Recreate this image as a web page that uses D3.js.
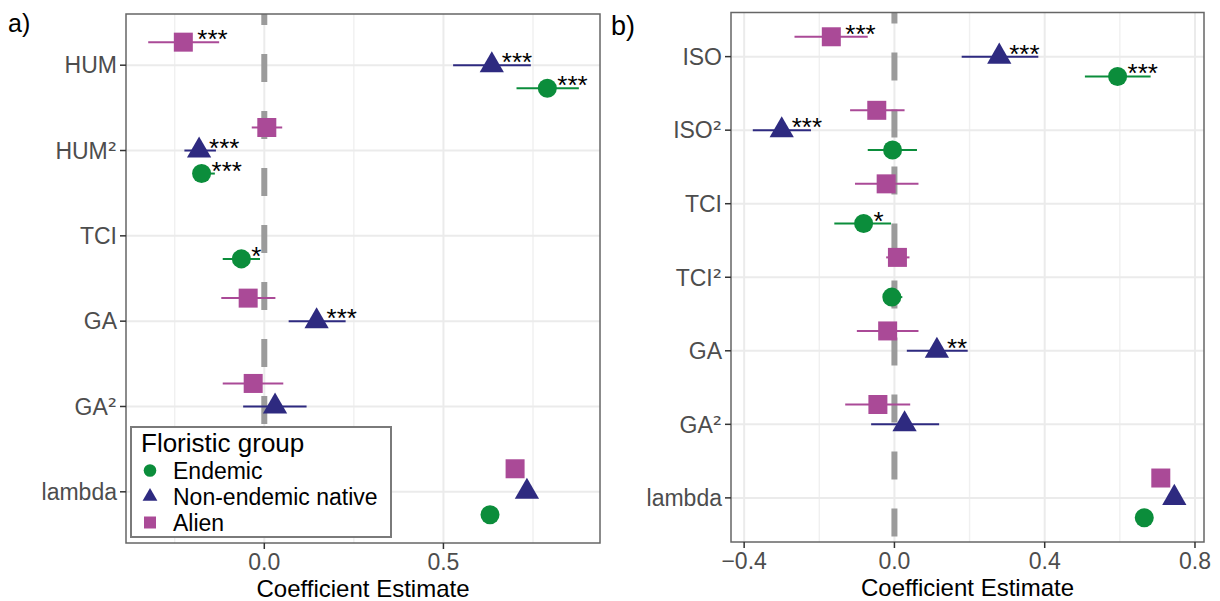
<!DOCTYPE html>
<html>
<head>
<meta charset="utf-8">
<script src="https://cdn.jsdelivr.net/npm/d3@7"></script>
<style>
  body { margin: 0; background: #fff; }
  svg { display: block; }
  text { font-family: "Liberation Sans", Arial, Helvetica, sans-serif; }
  tspan.sup { font-family: "DejaVu Sans", sans-serif; }
</style>
</head>
<body>
<svg id="fig" width="1220" height="601"></svg>
<script>
// Floristic groups, in legend order
const groups = ["Endemic", "Non-endemic native", "Alien"];
const groupColors = ["#0b8d3b", "#2e2a80", "#aa4a97"];
const groupShapes = ["circle", "triangle", "square"];
// vertical dodge of each group within a term row (fraction of row step)
const groupDodge = [0.27, 0, -0.27];

// ---- Panel a: humidity model ----
const termsA = ["HUM", "HUM²", "TCI", "GA", "GA²", "lambda"];
const endemicEstA  = [0.790, -0.175, -0.064, null, null, 0.630];
const endemicLoA   = [0.704, -0.198, -0.116, null, null, null];
const endemicHiA   = [0.878, -0.138, -0.012, null, null, null];
const endemicSigA  = ["***", "***", "*", "", "", ""];
const nativeEstA   = [0.635, -0.182, null, 0.146, 0.030, 0.733];
const nativeLoA    = [0.527, -0.223, null, 0.068, -0.059, null];
const nativeHiA    = [0.744, -0.135, null, 0.227, 0.118, null];
const nativeSigA   = ["***", "***", "", "***", "", ""];
const alienEstA    = [-0.226, 0.007, null, -0.045, -0.031, 0.700];
const alienLoA     = [-0.324, -0.035, null, -0.120, -0.116, null];
const alienHiA     = [-0.126, 0.050, null, 0.031, 0.053, null];
const alienSigA    = ["***", "", "", "", "", ""];
const xLimitsA = [-0.386, 0.937];
const xMajorA = [0, 0.5];
const xMinorA = [-0.25, 0.25, 0.75];
const xTickLabelsA = ["0.0", "0.5"];

// ---- Panel b: isothermality model ----
const termsB = ["ISO", "ISO²", "TCI", "TCI²", "GA", "GA²", "lambda"];
const endemicEstB  = [0.594, -0.005, -0.082, -0.007, null, null, 0.665];
const endemicLoB   = [0.507, -0.071, -0.160, -0.013, null, null, null];
const endemicHiB   = [0.682, 0.060, -0.009, 0.021, null, null, null];
const endemicSigB  = ["***", "", "*", "", "", "", ""];
const nativeEstB   = [0.279, -0.300, null, null, 0.113, 0.027, 0.745];
const nativeLoB    = [0.179, -0.377, null, null, 0.033, -0.062, null];
const nativeHiB    = [0.383, -0.222, null, null, 0.195, 0.119, null];
const nativeSigB   = ["***", "***", "", "", "**", "", ""];
const alienEstB    = [-0.168, -0.047, -0.022, 0.008, -0.018, -0.044, 0.709];
const alienLoB     = [-0.266, -0.118, -0.105, -0.022, -0.100, -0.131, null];
const alienHiB     = [-0.071, 0.027, 0.064, 0.040, 0.064, 0.042, null];
const alienSigB    = ["***", "", "", "", "", "", ""];
const xLimitsB = [-0.435, 0.824];
const xMajorB = [-0.4, 0, 0.4, 0.8];
const xMinorB = [-0.2, 0.2, 0.6];
const xTickLabelsB = ["\u22120.4", "0.0", "0.4", "0.8"];

const svg = d3.select("#fig");

function symbolPath(shape, big) {
  const sizes = big
    ? { circle: 284, triangle: 255, square: 361 }
    : { circle: 125, triangle: 95, square: 144 };
  const type = shape === "circle" ? d3.symbolCircle
             : shape === "triangle" ? d3.symbolTriangle : d3.symbolSquare;
  return d3.symbol().type(type).size(sizes[shape])();
}

function buildRows(terms, est, lo, hi, sig) {
  // est/lo/hi/sig are arrays indexed [group][term]
  const rows = [];
  groups.forEach((g, gi) => {
    terms.forEach((t, ti) => {
      if (est[gi][ti] == null) return;
      rows.push({ term: t, group: gi, est: est[gi][ti], lo: lo[gi][ti], hi: hi[gi][ti], sig: sig[gi][ti] });
    });
  });
  return rows;
}

// term label with the squared sign set in a font whose superscript sits high
function termLabel(sel) {
  sel.each(function (d) {
    const t = d3.select(this);
    const base = d.replace("²", "");
    t.append("tspan").text(base);
    if (d.includes("²")) t.append("tspan").attr("class", "sup").text("²");
  });
}

function drawPanel(cfg) {
  const { left, top, right, bottom } = cfg.box;
  const g = svg.append("g");
  const x = d3.scaleLinear().domain(cfg.xLimits).range([left, right]);
  const y = d3.scalePoint().domain(cfg.terms).range([top, bottom]).padding(0.6);
  const step = y.step();

  // grid
  g.selectAll(".minor").data(cfg.xMinor).join("line")
    .attr("x1", d => x(d)).attr("x2", d => x(d)).attr("y1", top).attr("y2", bottom)
    .attr("stroke", "#f0f0f0").attr("stroke-width", 1.4);
  g.selectAll(".majx").data(cfg.xMajor).join("line")
    .attr("x1", d => x(d)).attr("x2", d => x(d)).attr("y1", top).attr("y2", bottom)
    .attr("stroke", "#ebebeb").attr("stroke-width", 2);
  g.selectAll(".majy").data(cfg.terms).join("line")
    .attr("x1", left).attr("x2", right).attr("y1", d => y(d)).attr("y2", d => y(d))
    .attr("stroke", "#ebebeb").attr("stroke-width", 2);

  // reference line at zero
  g.append("line")
    .attr("x1", x(0)).attr("x2", x(0)).attr("y1", top).attr("y2", bottom)
    .attr("stroke", "#9b9b9b").attr("stroke-width", 6)
    .attr("stroke-dasharray", "28,29").attr("stroke-dashoffset", 17);

  const rows = buildRows(cfg.terms, cfg.est, cfg.lo, cfg.hi, cfg.sig);
  const yPos = d => y(d.term) + groupDodge[d.group] * step;

  // confidence intervals
  g.selectAll(".ci").data(rows.filter(d => d.lo != null)).join("line")
    .attr("x1", d => x(d.lo)).attr("x2", d => x(d.hi))
    .attr("y1", yPos).attr("y2", yPos)
    .attr("stroke", d => groupColors[d.group]).attr("stroke-width", 2);

  // estimates
  g.selectAll(".pt").data(rows).join("path")
    .attr("d", d => symbolPath(groupShapes[d.group], true))
    .attr("transform", d => `translate(${x(d.est)},${yPos(d)})`)
    .attr("fill", d => groupColors[d.group]);

  // significance stars
  g.selectAll(".sig").data(rows.filter(d => d.sig)).join("text")
    .attr("x", d => x(d.est) + (groupShapes[d.group] === "square" ? 14 : 10))
    .attr("y", d => yPos(d) + 6)
    .attr("font-size", 26).attr("fill", "#000")
    .text(d => d.sig);

  // panel border
  g.append("rect")
    .attr("x", left).attr("y", top).attr("width", right - left).attr("height", bottom - top)
    .attr("fill", "none").attr("stroke", "#666").attr("stroke-width", 1.5);

  // y axis ticks & labels
  g.selectAll(".yt").data(cfg.terms).join("line")
    .attr("x1", left - 6).attr("x2", left).attr("y1", d => y(d)).attr("y2", d => y(d))
    .attr("stroke", "#333").attr("stroke-width", 1.5);
  g.selectAll(".yl").data(cfg.terms).join("text")
    .attr("x", left - 9).attr("y", d => y(d)).attr("dy", "0.36em")
    .attr("text-anchor", "end").attr("font-size", 23).attr("fill", "#4d4d4d")
    .call(termLabel);

  // x axis ticks & labels
  g.selectAll(".xt").data(cfg.xMajor).join("line")
    .attr("x1", d => x(d)).attr("x2", d => x(d)).attr("y1", bottom).attr("y2", bottom + 6)
    .attr("stroke", "#333").attr("stroke-width", 1.5);
  g.selectAll(".xl").data(cfg.xMajor).join("text")
    .attr("x", d => x(d)).attr("y", bottom + 27)
    .attr("text-anchor", "middle").attr("font-size", 23).attr("fill", "#4d4d4d")
    .text((d, i) => cfg.xTickLabels[i]);

  g.append("text")
    .attr("x", (left + right) / 2).attr("y", bottom + 54)
    .attr("text-anchor", "middle").attr("font-size", 24).attr("fill", "#000")
    .text("Coefficient Estimate");

  // panel tag
  svg.append("text")
    .attr("x", cfg.tag.x).attr("y", cfg.tag.y)
    .attr("font-size", cfg.tag.size).attr("fill", "#000")
    .text(cfg.tag.text);

  return g;
}

drawPanel({
  box: { left: 126, top: 14, right: 600, bottom: 543 },
  terms: termsA, xLimits: xLimitsA, xMajor: xMajorA, xMinor: xMinorA, xTickLabels: xTickLabelsA,
  est: [endemicEstA, nativeEstA, alienEstA],
  lo: [endemicLoA, nativeLoA, alienLoA],
  hi: [endemicHiA, nativeHiA, alienHiA],
  sig: [endemicSigA, nativeSigA, alienSigA],
  tag: { text: "a)", x: 8, y: 32, size: 25 }
});

drawPanel({
  box: { left: 731, top: 12.5, right: 1204, bottom: 542 },
  terms: termsB, xLimits: xLimitsB, xMajor: xMajorB, xMinor: xMinorB, xTickLabels: xTickLabelsB,
  est: [endemicEstB, nativeEstB, alienEstB],
  lo: [endemicLoB, nativeLoB, alienLoB],
  hi: [endemicHiB, nativeHiB, alienHiB],
  sig: [endemicSigB, nativeSigB, alienSigB],
  tag: { text: "b)", x: 611, y: 35, size: 27 }
});

// legend (inside panel a)
const legend = svg.append("g");
legend.append("rect")
  .attr("x", 131).attr("y", 427).attr("width", 260).attr("height", 110)
  .attr("fill", "#fff").attr("stroke", "#7a7a7a").attr("stroke-width", 2);
legend.append("text")
  .attr("x", 141).attr("y", 452).attr("font-size", 26).attr("fill", "#000")
  .text("Floristic group");
groups.forEach((name, i) => {
  const cy = 470.5 + i * 26;
  legend.append("path")
    .attr("d", symbolPath(groupShapes[i], false))
    .attr("transform", `translate(150,${cy})`)
    .attr("fill", groupColors[i]);
  legend.append("text")
    .attr("x", 173).attr("y", cy).attr("dy", "0.36em")
    .attr("font-size", 23).attr("fill", "#000")
    .text(name);
});
</script>
</body>
</html>
